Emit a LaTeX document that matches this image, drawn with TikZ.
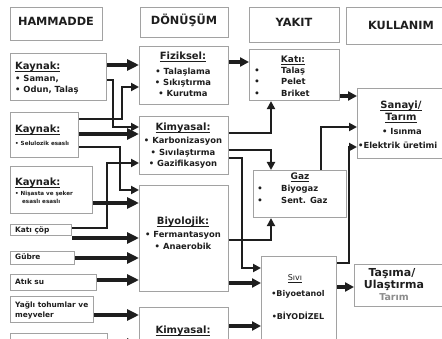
\documentclass[tikz,border=0pt]{standalone}
\usepackage{fontspec}
\setmainfont{DejaVu Sans}
\usetikzlibrary{arrows.meta}
\definecolor{boxgray}{HTML}{A2A2A2}
\definecolor{ink}{HTML}{1E1E1E}
\definecolor{tgray}{HTML}{8C8C8C}
\newcommand\bx[5]{\node[box,minimum width={#4-#2},minimum height={#5-#3}] (#1) at (#2,#3) {};}
\newcommand\ulx[1]{\underline{\smash{#1}}}
\begin{document}
\begin{tikzpicture}[x=1pt,y=-1pt,
  box/.style={draw=boxgray,line width=1.1pt,fill=white,inner sep=0pt,anchor=north west},
  txt/.style={inner sep=0pt,text=ink,font=\fontsize{8.4}{10}\selectfont\bfseries,anchor=mid},
  lt/.style={txt,anchor=mid west},
  hd/.style={txt,font=\fontsize{11.3}{13}\selectfont\bfseries},
  ttl/.style={txt,font=\fontsize{10}{12}\selectfont\bfseries},
  tiny/.style={lt,font=\fontsize{5.6}{7}\selectfont\bfseries},
  src/.style={lt,font=\fontsize{7.4}{9}\selectfont\bfseries},
  fat/.style={draw=ink,line width=4.6pt,-{Triangle[length=12pt,width=11pt]}},
  med/.style={draw=ink,line width=3.4pt,line join=miter,-{Triangle[length=9pt,width=9pt]}},
  rt/.style={draw=ink,line width=2.7pt,line join=miter,-{Triangle[length=8pt,width=8pt]}}]
\useasboundingbox (0,0) rectangle (442,339);
\fill[white] (0,0) rectangle (442,339);
% boxes
\bx{ham}{10}{7}{102}{40}
\bx{don}{140}{7}{228}{37}
\bx{yak}{249}{7}{339}{42}
\bx{kul}{346}{7}{452}{44}
\bx{kA}{10}{53}{106}{100}
\bx{fiz}{139}{46}{228}{104}
\bx{kB}{10}{112}{78}{157}
\bx{kim}{139}{116}{228}{174}
\bx{kati}{249}{49}{339}{100}
\bx{san}{357}{88}{452}{158}
\bx{kC}{10}{166}{92}{213}
\bx{gaz}{253}{170}{346}{217}
\bx{kc}{10}{224}{71}{235}
\bx{bio}{139}{185}{228}{291}
\bx{gub}{10}{251}{74}{264}
\bx{atik}{10}{274}{96}{290}
\bx{sivi}{261}{256}{336}{352}
\bx{tas}{354}{264}{452}{306}
\bx{yag}{10}{296}{93}{322}
\bx{kimB}{139}{307}{228}{352}
\bx{son}{10}{333}{107}{352}
% headers
\node[hd] (tham) at (56,23) {HAMMADDE};
\node[hd] (tdon) at (184,22) {DÖNÜŞÜM};
\node[hd] (tyak) at (294,24) {YAKIT};
\node[hd] (tkul) at (401,27) {KULLANIM};
% left column
\node[ttl,anchor=mid west] (kAt) at (15,67) {\ulx{Kaynak:}};
\node[lt] (kA1) at (15,79) {• Saman,};
\node[lt] (kA2) at (15,90) {• Odun, Talaş};
\node[ttl,anchor=mid west] (kBt) at (15,130) {\ulx{Kaynak:}};
\node[tiny] (kB1) at (15,143) {• Selulozik esaslı};
\node[ttl,anchor=mid west] (kCt) at (15,183) {\ulx{Kaynak:}};
\node[tiny] (kC1) at (15,193) {• Nişasta ve şeker};
\node[tiny] (kC2) at (22,201) {esaslı esaslı};
\node[src] (tkc) at (15,230) {Katı çöp};
\node[src] (tgub) at (15,257) {Gübre};
\node[src] (tatik) at (15,282) {Atık su};
\node[src] (tyag1) at (15,305) {Yağlı tohumlar ve};
\node[src] (tyag2) at (15,315) {meyveler};
% conversion column
\node[ttl] (fizt) at (183,57) {\ulx{Fiziksel:}};
\node[txt] (fiz1) at (183,72) {• Talaşlama};
\node[txt] (fiz2) at (183,83) {• Sıkıştırma};
\node[txt] (fiz3) at (183,94) {• Kurutma};
\node[ttl] (kimt) at (183,128) {\ulx{Kimyasal:}};
\node[txt] (kim1) at (183,141) {• Karbonizasyon};
\node[txt] (kim2) at (183,153) {• Sıvılaştırma};
\node[txt] (kim3) at (183,164) {• Gazifikasyon};
\node[ttl] (biot) at (183,222) {\ulx{Biyolojik:}};
\node[txt] (bio1) at (183,235) {• Fermantasyon};
\node[txt] (bio2) at (183,247) {• Anaerobik};
\node[ttl] (kimBt) at (183,331) {\ulx{Kimyasal:}};
% fuel column
\node[txt,font=\fontsize{9}{11}\selectfont\bfseries] (katit) at (293,60) {\ulx{Katı:}};
\node[txt] (katib1) at (257,71) {•};
\node[txt] (katib2) at (257,82) {•};
\node[txt] (katib3) at (257,94) {•};
\node[lt] (kati1) at (281,71) {Talaş};
\node[lt] (kati2) at (281,82) {Pelet};
\node[lt] (kati3) at (281,94) {Briket};
\node[txt,font=\fontsize{9}{11}\selectfont\bfseries] (gazt) at (300,177) {\ulx{Gaz}};
\node[txt] (gazb1) at (260,189) {•};
\node[txt] (gazb2) at (260,201) {•};
\node[lt] (gaz1) at (281,189) {Biyogaz};
\node[lt] (gaz2) at (281,201) {Sent. Gaz};
\node[txt,font=\fontsize{8}{10}\selectfont] (sivit) at (295,278) {\ulx{Sıvı}};
\node[txt,font=\fontsize{8}{10}\selectfont\bfseries] (sivi1) at (298,294) {•Biyoetanol};
\node[txt,font=\fontsize{8}{10}\selectfont\bfseries] (sivi2) at (298,317) {•BİYODİZEL};
% use column
\node[ttl] (sant1) at (401,106) {\ulx{Sanayi/}};
\node[ttl] (sant2) at (401,118) {\ulx{Tarım}};
\node[txt] (san1) at (402,132) {• Isınma};
\node[lt] (san2) at (358,146) {•Elektrik üretimi};
\node[txt,font=\fontsize{11}{13}\selectfont\bfseries] (tas1) at (392,274) {Taşıma/};
\node[txt,font=\fontsize{11}{13}\selectfont\bfseries] (tas2) at (394,286) {Ulaştırma};
\node[txt,font=\fontsize{9.5}{11}\selectfont\bfseries,text=tgray] (tas3) at (394,298) {Tarım};
% connectors: raw material -> conversion
\draw[fat] (kA.east |- 0,65) -- (fiz.west |- 0,65);
\draw[rt] (kA.east |- 0,80) -- (113,80) -- (113,127) -- (kim.west |- 0,127);
\draw[rt] (kB.east |- 0,119) -- (122,119) -- (122,87) -- (fiz.west |- 0,87);
\draw[fat] (kB.east |- 0,134) -- (kim.west |- 0,134);
\draw[rt] (kB.east |- 0,147) -- (120,147) -- (120,190) -- (bio.west |- 0,190);
\draw[rt] (kc.east |- 0,228) -- (107,228) -- (107,163) -- (kim.west |- 0,163);
\draw[fat] (kC.east |- 0,203) -- (bio.west |- 0,203);
\draw[fat] (kc.east |- 0,238) -- (bio.west |- 0,238);
\draw[fat] (gub.east |- 0,258) -- (bio.west |- 0,258);
\draw[fat] (atik.east |- 0,280) -- (bio.west |- 0,280);
\draw[fat] (yag.east |- 0,315) -- (kimB.west |- 0,315);
\draw[fat] (son.east |- 0,344) -- (kimB.west |- 0,344);
% conversion -> fuel
\draw[med] (fiz.east |- 0,62) -- (kati.west |- 0,62);
\draw[rt] (kim.east |- 0,133) -| (kati.south -| 271,0);
\draw[rt] (kim.east |- 0,150) -| (gaz.north -| 271,0);
\draw[rt] (kim.east |- 0,158) -- (242,158) -- (242,268) -- (sivi.west |- 0,268);
\draw[rt] (bio.east |- 0,240) -| (gaz.south -| 271,0);
\draw[med] (bio.east |- 0,283) -- (sivi.west |- 0,283);
\draw[med] (kimB.east |- 0,326) -- (sivi.west |- 0,326);
% fuel -> use
\draw[med] (kati.east |- 0,96) -- (san.west |- 0,96);
\draw[rt] (gaz.north -| 321,0) |- (san.west |- 0,127);
\draw[rt] (sivi.east |- 0,263) -- (349,263) -- (349,147) -- (san.west |- 0,147);
\draw[med] (sivi.east |- 0,287) -- (tas.west |- 0,287);
\end{tikzpicture}
\end{document}
